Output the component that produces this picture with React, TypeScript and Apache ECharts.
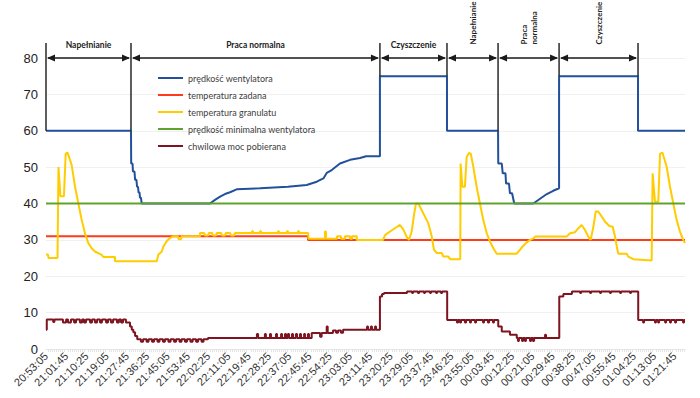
import React, { useEffect, useRef } from "react";
import * as echarts from "echarts";

// time axis: seconds elapsed since 20:53:05
const START_CLOCK = "20:53:05";
const TICK_STEP = 520;
const T_END = 16390;

const seriesNames = [
  "prędkość wentylatora",
  "temperatura zadana",
  "temperatura granulatu",
  "prędkość minimalna wentylatora",
  "chwilowa moc pobierana",
];
const seriesColors = ["#23509a", "#ff3b1a", "#ffcc00", "#5fa32e", "#7d1420"];

const phaseNames = ["Napełnianie", "Praca normalna", "Czyszczenie", "Napełnianie", "Praca\nnormalna", "Czyszczenie"];
const phaseBounds = [0, 2180, 8565, 10285, 11595, 13160, 15185];
const phaseVertical = [false, false, false, true, true, true];

const fanSpeed: [number, number][] = [
  [0, 60], [2180, 60], [2185, 51], [2220, 51], [2230, 48.8], [2270, 48.8], [2285, 46.5], [2320, 46.5],
  [2335, 44.6], [2360, 44.6], [2375, 43], [2400, 43], [2410, 41.6], [2435, 41.6], [2455, 40], [4205, 40],
  [4335, 41], [4465, 41.9], [4590, 42.6], [4720, 43.1], [4890, 43.9], [5490, 44.2], [6205, 44.6],
  [6685, 45.1], [6945, 46], [7115, 46.9], [7200, 48.4], [7330, 49.2], [7540, 51], [7800, 52], [8055, 52.5],
  [8210, 53], [8565, 53], [8565, 75], [10285, 75], [10285, 60], [11595, 60], [11600, 51], [11690, 51],
  [11715, 48.3], [11785, 48.3], [11800, 45.5], [11875, 45.5], [11900, 42.8], [11955, 42.8], [12010, 40],
  [12500, 40], [12845, 42.6], [13010, 43.5], [13160, 44.2], [13160, 75], [15185, 75], [15185, 60], [16390, 60],
];

const setTemp: [number, number][] = [[0, 31], [6720, 31], [6720, 30], [16390, 30]];

const granTemp: [number, number][] = [
  [0, 26], [50, 26], [65, 25], [295, 25], [320, 50], [370, 42], [460, 42], [505, 53.7], [550, 54], [575, 53.3],
  [660, 50.5], [745, 44.6], [830, 40], [915, 35.5], [1000, 31.8], [1085, 29.1], [1170, 27.7], [1255, 26.8],
  [1430, 25.9], [1470, 25.3], [1770, 25.3], [1770, 24.1], [2840, 24.1], [2880, 25.9], [2970, 26.8],
  [3010, 28.2], [3095, 29.6], [3180, 30.5], [3265, 31], [3385, 31], [3400, 30.2], [3465, 30.2], [3475, 31],
  [3950, 31], [3950, 31.9], [4055, 31.9], [4080, 31.2], [4155, 31.2], [4180, 31.9], [4260, 31.9],
  [4285, 31.2], [4360, 31.2], [4385, 31.9], [4490, 31.9], [4515, 31.2], [4590, 31.2], [4615, 31.9],
  [4720, 31.9], [4745, 31.2], [4820, 31.2], [4850, 31.9],
  [5285, 31.9], [5285, 32.4], [5310, 32.4], [5310, 31.9], [5490, 31.9], [5490, 32.4], [5515, 32.4], [5515, 31.9],
  [5950, 31.9], [5950, 32.4], [5975, 32.4], [5975, 31.9], [6180, 31.9], [6180, 32.4], [6205, 32.4], [6205, 31.9],
  [6465, 31.9], [6465, 32.4], [6490, 32.4], [6490, 31.9],
  [6720, 31.9], [6735, 30.3], [7155, 30.3], [7155, 32.3], [7180, 32.3], [7180, 30.3], [7465, 30.3], [7465, 31],
  [7565, 31], [7565, 30.3], [7670, 30.3], [7670, 31], [7800, 31], [7800, 30.3], [7850, 30.3], [7850, 31],
  [7970, 31], [7970, 30], [8645, 30], [8695, 31.3], [8825, 32.3], [8950, 33.2], [9080, 34.1], [9165, 32.8],
  [9250, 30.9], [9310, 30], [9380, 32.3], [9445, 37.3], [9490, 40], [9550, 40], [9635, 38.2], [9720, 36.4],
  [9805, 34.6], [9895, 30.9], [9950, 27.3], [10020, 26.4], [10150, 26.4], [10190, 25.4], [10320, 25.4],
  [10365, 24.7], [10625, 24.7], [10635, 51], [10680, 44.6], [10745, 44.6], [10790, 52.8], [10850, 53.9],
  [10895, 53.7], [10960, 50.1], [11045, 44.6], [11130, 40], [11215, 35.5], [11305, 31.8], [11390, 29.5],
  [11475, 27.7], [11560, 26.2], [12075, 26.2], [12160, 27.3], [12225, 28.2], [12310, 29.1], [12415, 30],
  [12500, 30.4], [12545, 30.9], [13355, 30.9], [13440, 31.8], [13570, 32.1], [13655, 33.2], [13740, 34.1],
  [13825, 32.7], [13910, 30.9], [13970, 30], [14040, 33.6], [14100, 37.8], [14165, 37.8], [14255, 36.4],
  [14340, 35], [14450, 33.8], [14535, 33.6], [14595, 30.9], [14640, 28.2], [14680, 26.2], [14895, 26.2],
  [14935, 25.4], [15065, 24.7], [15535, 24.3], [15560, 48.3], [15620, 40.5], [15705, 40.5], [15750, 53.7],
  [15810, 54], [15920, 50.1], [16005, 44.6], [16090, 40], [16175, 35.5], [16260, 32.3], [16345, 30], [16390, 29.1],
];

const minFanSpeed: [number, number][] = [[0, 40], [16390, 40]];

// each value holds until the next time
const power: [number, number][] = [
  [0, 5.3], [20, 8.1], [185, 7.4], [215, 8.1], [435, 7.3], [515, 8.1], [565, 7.3], [640, 8.1], [720, 7.3],
  [770, 8.1], [870, 7.3], [925, 8.1], [975, 7.3], [1025, 8.1], [1130, 7.3], [1180, 8.1], [1255, 7.3],
  [1310, 8.1], [1385, 7.3], [1435, 8.1], [1540, 7.3], [1590, 8.1], [1665, 7.3], [1720, 8.1], [1820, 7.3],
  [1870, 8.1], [1925, 7.3], [1975, 8.1], [2050, 7.3], [2155, 6.2], [2200, 5.3], [2240, 4.6], [2285, 3.6],
  [2340, 2.7], [2435, 2.0], [2490, 2.7], [2580, 2.0], [2630, 2.7], [2720, 2.0], [2770, 2.7], [2860, 2.0],
  [2910, 2.7], [3000, 2.0], [3050, 2.7], [3140, 2.0], [3195, 2.7], [3285, 2.0], [3335, 2.7], [3425, 2.0],
  [3475, 2.7], [3565, 2.0], [3615, 2.7], [3705, 2.0], [3760, 2.7], [3850, 2.0], [3900, 2.7], [3990, 2.0],
  [4040, 2.7], [4155, 3.0], [5410, 4.1], [5440, 3.0], [5615, 4.1], [5640, 3.0], [5745, 4.1], [5770, 3.0],
  [5900, 4.1], [5925, 3.0], [6030, 4.1], [6055, 3.0], [6130, 4.1], [6155, 3.0], [6205, 4.1], [6235, 3.0],
  [6310, 4.1], [6335, 3.0], [6410, 4.1], [6440, 3.0], [6515, 4.1], [6540, 3.0], [6620, 4.1], [6645, 3.0],
  [6720, 4.1], [6745, 3.0], [6815, 4.4], [7030, 3.4], [7070, 4.4], [7200, 6.2], [7225, 4.4], [7360, 5.1],
  [7440, 4.5], [7490, 5.1], [7565, 4.5], [7620, 5.3], [8235, 6.2], [8260, 5.3], [8335, 6.2], [8360, 5.3],
  [8440, 6.2], [8465, 5.3], [8565, 14.4], [8620, 15.1], [8670, 15.4], [9260, 15.8], [9390, 15.4],
  [9415, 15.8], [9540, 15.4], [9570, 15.8], [9695, 15.4], [9720, 15.8], [9850, 15.4], [9875, 15.8],
  [10005, 15.4], [10030, 15.8], [10130, 15.4], [10160, 15.8], [10290, 8.0], [10540, 7.3], [10570, 8.0],
  [10620, 7.3], [10645, 8.0], [10745, 7.3], [10775, 8.0], [10875, 7.3], [10900, 8.0], [11005, 7.3],
  [11030, 8.0], [11210, 7.3], [11235, 8.0], [11335, 7.3], [11365, 8.0], [11465, 7.3], [11490, 8.0],
  [11600, 6.2], [11690, 4.8], [11900, 3.9], [12075, 3.0], [12105, 2.2], [12130, 3.0], [12210, 2.2],
  [12235, 3.0], [12285, 2.2], [12310, 3.0], [12415, 2.2], [12440, 3.0], [12490, 2.2], [12520, 3.0],
  [12800, 3.9], [12825, 3.0], [13165, 14.4], [13270, 15.1], [13490, 15.8], [13700, 15.4], [13725, 15.8],
  [13955, 15.4], [13980, 15.8], [14210, 15.4], [14235, 15.8], [14465, 15.4], [14490, 15.8], [14725, 15.4],
  [14750, 15.8], [14980, 15.4], [15005, 15.8], [15190, 8.0], [15315, 7.3], [15340, 8.0], [15620, 7.3],
  [15645, 8.0], [15700, 7.3], [15725, 8.0], [15880, 7.3], [15905, 8.0], [16005, 7.3], [16030, 8.0],
  [16135, 7.3], [16160, 8.0], [16340, 7.3], [16365, 8.0], [16390, 8.0],
];

function clockLabel(t: number): string {
  const [h, m, s] = START_CLOCK.split(":").map(Number);
  const total = (h * 3600 + m * 60 + s + Math.round(t)) % 86400;
  const p = (n: number) => String(n).padStart(2, "0");
  return `${p(Math.floor(total / 3600))}:${p(Math.floor((total % 3600) / 60))}:${p(total % 60)}`;
}

function fanAt(t: number): number {
  let best = -Infinity;
  for (const [pt, v] of fanSpeed) if (Math.abs(pt - t) <= 20) best = Math.max(best, v);
  return best === -Infinity ? 60 : best;
}

export default function App() {
  const ref = useRef<HTMLDivElement>(null);
  useEffect(() => {
    const chart = echarts.init(ref.current!, null, { renderer: "svg" });
    const datasets = [fanSpeed, setTemp, granTemp, minFanSpeed, power];
    chart.setOption({
      animation: false,
      backgroundColor: "#ffffff",
      textStyle: { fontFamily: "'Liberation Sans', Arial, sans-serif" },
      grid: { left: 46, right: 15, top: 58, bottom: 49 },
      legend: {
        orient: "vertical",
        left: 158,
        top: 72,
        padding: 0,
        itemWidth: 25,
        itemHeight: 2,
        itemGap: 5,
        icon: "rect",
        textStyle: { fontFamily: "Lato", fontSize: 9, color: "#404040", lineHeight: 12 },
        data: seriesNames,
      },
      xAxis: {
        type: "value",
        min: 0,
        max: T_END,
        interval: TICK_STEP,
        axisLine: { lineStyle: { color: "#e4e4e4" } },
        axisTick: { show: false },
        minorTick: { show: true, splitNumber: 10, length: 3, lineStyle: { color: "#e4e4e4" } },
        splitLine: { show: false },
        axisLabel: {
          rotate: 45,
          fontSize: 11,
          color: "#333",
          margin: 5,
          showMaxLabel: false,
          formatter: (v: number) => (Math.round(v) % TICK_STEP === 0 ? clockLabel(v) : ""),
        },
      },
      yAxis: {
        type: "value",
        min: 0,
        max: 80,
        interval: 10,
        axisLine: { show: false },
        axisTick: { show: false },
        splitLine: { lineStyle: { color: "#f0f0f0" } },
        axisLabel: { fontSize: 13, color: "#222", margin: 8 },
      },
      series: seriesNames.map((name, i) => ({
        name,
        type: "line",
        data: datasets[i],
        showSymbol: false,
        symbol: "none",
        step: i === 4 ? "end" : false,
        color: seriesColors[i],
        lineStyle: { width: 2, color: seriesColors[i] },
        z: 2 + i,
      })),
    });

    const toPx = (t: number, v: number) => chart.convertToPixel({ gridIndex: 0 } as any, [t, v]) as number[];
    const yArrow = toPx(0, 80)[1];
    const yTopLine = yArrow - 15;
    const graphic: any[] = [];
    const lineCol = "#1a1a1a";
    phaseBounds.forEach((t) => {
      const [x] = toPx(t, 80);
      const yb = toPx(t, fanAt(t))[1];
      graphic.push({
        type: "line",
        shape: { x1: x, y1: yTopLine, x2: x, y2: yb },
        style: { stroke: lineCol, lineWidth: 1.4 },
        z: 100,
      });
    });
    const aLen = 8, aHalf = 3.5;
    phaseNames.forEach((name, i) => {
      const xa = toPx(phaseBounds[i], 80)[0];
      const xb = toPx(phaseBounds[i + 1], 80)[0];
      graphic.push({
        type: "line",
        shape: { x1: xa + 2, y1: yArrow, x2: xb - 2, y2: yArrow },
        style: { stroke: lineCol, lineWidth: 1.4 },
        z: 100,
      });
      graphic.push({
        type: "polygon",
        shape: { points: [[xa + 1, yArrow], [xa + 1 + aLen, yArrow - aHalf], [xa + 1 + aLen, yArrow + aHalf]] },
        style: { fill: lineCol },
        z: 100,
      });
      graphic.push({
        type: "polygon",
        shape: { points: [[xb - 1, yArrow], [xb - 1 - aLen, yArrow - aHalf], [xb - 1 - aLen, yArrow + aHalf]] },
        style: { fill: lineCol },
        z: 100,
      });
      const xm = (xa + xb) / 2;
      const font = { fontFamily: "Lato", fontWeight: "bold", fill: "#222", lineHeight: 10 };
      if (phaseVertical[i]) {
        graphic.push({
          type: "text",
          x: xm,
          y: yTopLine + 1.5,
          rotation: Math.PI / 2,
          style: { text: name, align: "left", verticalAlign: "middle", fontSize: 8, ...font },
          z: 100,
        });
      } else {
        graphic.push({
          type: "text",
          x: xm,
          y: yTopLine + 1.5,
          style: { text: name, align: "center", verticalAlign: "middle", fontSize: 8.5, ...font },
          z: 100,
        });
      }
    });
    chart.setOption({ graphic });
    return () => chart.dispose();
  }, []);
  return <div ref={ref} style={{ position: "fixed", left: 0, top: 0, width: 700, height: 398 }} />;
}
